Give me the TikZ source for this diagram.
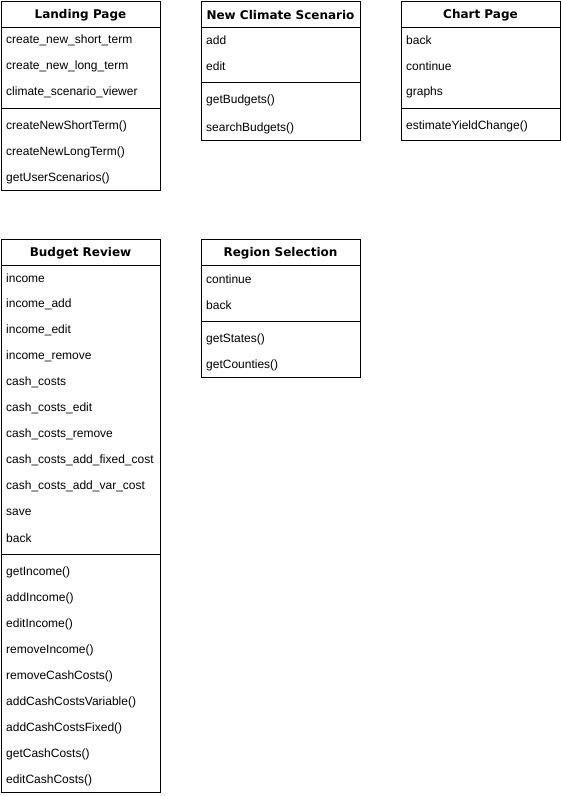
\documentclass[tikz,border=0pt]{standalone}
\usepackage{fontspec}
\setmainfont{Liberation Sans}
\newfontfamily\titlefont{DejaVu Sans}
\begin{document}
\begin{tikzpicture}[x=1pt,y=-1pt,
  classbox/.style={draw, line width=1pt, rectangle, inner sep=0pt, anchor=north west, minimum width=159pt},
  ttl/.style={font=\titlefont\bfseries\fontsize{12}{14}\selectfont, inner sep=0pt},
  item/.style={font=\fontsize{12}{14}\selectfont, anchor=west, inner sep=0pt},
  rule/.style={line width=1pt}]
\useasboundingbox (0,0) rectangle (561,796);
\fill[white] (0,0) rectangle (561,796);

% Landing Page
\node[classbox, minimum height=189pt] (lp) at (1,1) {};
\node[ttl] (lpt) at (80.5,15.5) {Landing Page};
\draw[rule] (lp.west |- 0,27) -- (lp.east |- 0,27);
\node[item] (lpa1) at (6,40) {create\_new\_short\_term};
\node[item] (lpa2) at (6,66) {create\_new\_long\_term};
\node[item] (lpa3) at (6,92) {climate\_scenario\_viewer};
\draw[rule] (lp.west |- 0,108) -- (lp.east |- 0,108);
\node[item] (lpm1) at (6,126) {createNewShortTerm()};
\node[item] (lpm2) at (6,152) {createNewLongTerm()};
\node[item] (lpm3) at (6,178) {getUserScenarios()};

% New Climate Scenario
\node[classbox, minimum height=139pt] (ncs) at (201,1) {};
\node[ttl] (ncst) at (280.5,15.5) {New Climate Scenario};
\draw[rule] (ncs.west |- 0,27) -- (ncs.east |- 0,27);
\node[item] (ncsa1) at (206,40) {add};
\node[item] (ncsa2) at (206,66) {edit};
\draw[rule] (ncs.west |- 0,82) -- (ncs.east |- 0,82);
\node[item] (ncsm1) at (206,100) {getBudgets()};
\node[item] (ncsm2) at (206,128) {searchBudgets()};

% Chart Page
\node[classbox, minimum height=139pt] (cp) at (401,1) {};
\node[ttl] (cpt) at (480.5,15.5) {Chart Page};
\draw[rule] (cp.west |- 0,27) -- (cp.east |- 0,27);
\node[item] (cpa1) at (406,40) {back};
\node[item] (cpa2) at (406,66) {continue};
\node[item] (cpa3) at (406,92) {graphs};
\draw[rule] (cp.west |- 0,108) -- (cp.east |- 0,108);
\node[item] (cpm1) at (406,126) {estimateYieldChange()};

% Budget Review
\node[classbox, minimum height=553pt] (br) at (1,239) {};
\node[ttl] (brt) at (80.5,253.5) {Budget Review};
\draw[rule] (br.west |- 0,265) -- (br.east |- 0,265);
\node[item] (bra1) at (6,278) {income};
\node[item] (bra2) at (6,304) {income\_add};
\node[item] (bra3) at (6,330) {income\_edit};
\node[item] (bra4) at (6,356) {income\_remove};
\node[item] (bra5) at (6,382) {cash\_costs};
\node[item] (bra6) at (6,408) {cash\_costs\_edit};
\node[item] (bra7) at (6,434) {cash\_costs\_remove};
\node[item] (bra8) at (6,460) {cash\_costs\_add\_fixed\_cost};
\node[item] (bra9) at (6,486) {cash\_costs\_add\_var\_cost};
\node[item] (bra10) at (6,512) {save};
\node[item] (bra11) at (6,538) {back};
\draw[rule] (br.west |- 0,554) -- (br.east |- 0,554);
\node[item] (brm1) at (6,572) {getIncome()};
\node[item] (brm2) at (6,598) {addIncome()};
\node[item] (brm3) at (6,624) {editIncome()};
\node[item] (brm4) at (6,650) {removeIncome()};
\node[item] (brm5) at (6,676) {removeCashCosts()};
\node[item] (brm6) at (6,702) {addCashCostsVariable()};
\node[item] (brm7) at (6,728) {addCashCostsFixed()};
\node[item] (brm8) at (6,754) {getCashCosts()};
\node[item] (brm9) at (6,780) {editCashCosts()};

% Region Selection
\node[classbox, minimum height=138pt] (rs) at (201,239) {};
\node[ttl] (rst) at (280.5,253.5) {Region Selection};
\draw[rule] (rs.west |- 0,265) -- (rs.east |- 0,265);
\node[item] (rsa1) at (206,279) {continue};
\node[item] (rsa2) at (206,305) {back};
\draw[rule] (rs.west |- 0,321) -- (rs.east |- 0,321);
\node[item] (rsm1) at (206,339) {getStates()};
\node[item] (rsm2) at (206,365) {getCounties()};
\end{tikzpicture}
\end{document}
